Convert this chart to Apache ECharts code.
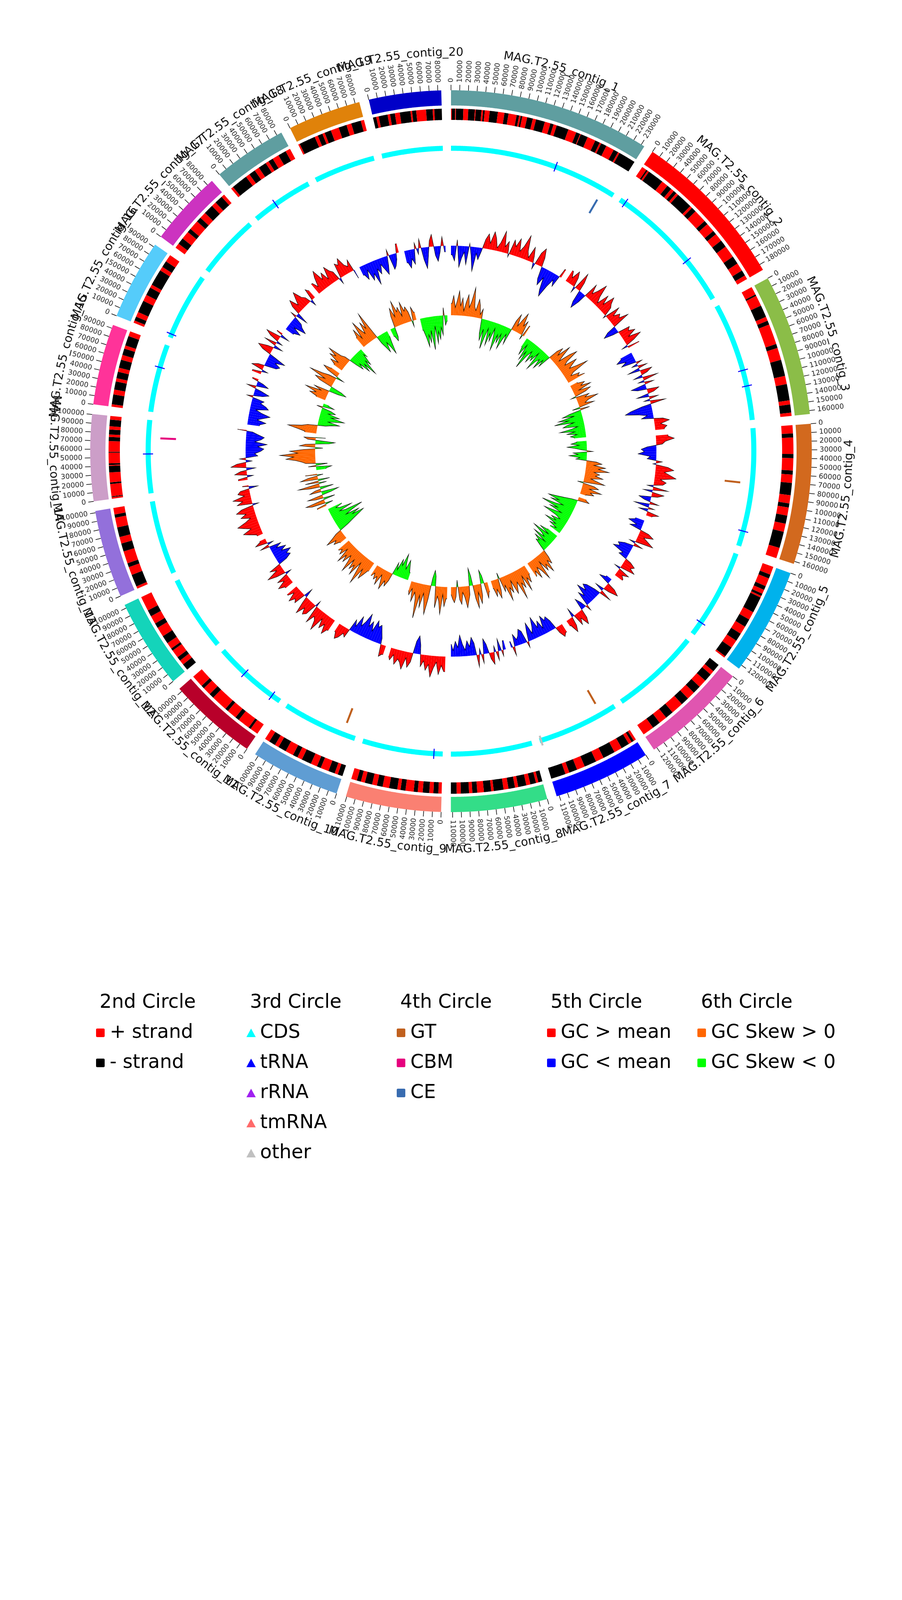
<!DOCTYPE html>
<html>
<head>
<meta charset="utf-8">
<script src="https://cdn.jsdelivr.net/npm/echarts@6/dist/echarts.min.js"></script>
<style>
html,body{margin:0;padding:0;background:#ffffff;}
#chart{width:2310px;height:4620px;}
</style>
</head>
<body>
<div id="chart"></div>
<script>
// ---------------- DATA ----------------
const contigNames = ['MAG.T2.55_contig_1','MAG.T2.55_contig_2','MAG.T2.55_contig_3','MAG.T2.55_contig_4','MAG.T2.55_contig_5',
  'MAG.T2.55_contig_6','MAG.T2.55_contig_7','MAG.T2.55_contig_8','MAG.T2.55_contig_9','MAG.T2.55_contig_10',
  'MAG.T2.55_contig_11','MAG.T2.55_contig_12','MAG.T2.55_contig_13','MAG.T2.55_contig_14','MAG.T2.55_contig_15',
  'MAG.T2.55_contig_16','MAG.T2.55_contig_17','MAG.T2.55_contig_18','MAG.T2.55_contig_19','MAG.T2.55_contig_20'];
const contigLengths = [234000,187000,164000,163000,125000,124000,113000,112000,111000,104000,
  104000,104000,102000,100500,94000,93000,87000,86000,85000,84000];

// strand runs in kb: positive = + strand, negative = - strand
const strandRuns = [
  [1,-4,1,-9,6,-8,1,-7,2,-2,6,-10,8,-5,10,-3,2,-2,6,-7,4,-11,7,-4,4,-15,10,-5,1,-9,10,-6,2,-7,10,-6,2,-21],
  [6,-2,2,-20,8,-6,4,-4,3,-20,3,-6,16,-5,11,-5,10,-9,15,-10,10,-7,5],
  [10,-2,13,-15,5,-5,25,-5,15,-20,10,-20,5,-10,4],
  [10,-5,20,-5,15,-5,10,-15,10,-5,10,-10,10,-20,13],
  [10,-5,10,-5,5,-3,2,-20,10,-10,10,-10,10,-13,2],
  [-10,5,-10,10,-10,10,-10,15,-10,10,-10,14],
  [3,-3,4,-10,10,-15,10,-15,10,-10,5,-18],
  [-5,3,-7,5,-10,4,-8,6,-12,3,-9,8,-6,4,-10,5,-7],
  [4,-6,5,-8,6,-5,10,-6,4,-10,8,-7,6,-9,5,-5,7],
  [-6,4,-8,10,-5,8,-12,6,-6,10,-10,5,-8,6],
  [10,-3,15,-5,12,-4,20,-6,10,-4,15],
  [-8,6,-5,10,-3,8,-10,12,-6,10,-8,18],
  [3,-15,10,-5,15,-10,8,-12,12,-4,8],
  [2,-1,15,-2,12,-8,1,-2,13,-1,13,-5,3,-6,4,-8,4.5],
  [3,-12,6,-10,4,-8,5,-10,6,-8,4,-12,6],
  [3,-5,6,-15,8,-10,4,-20,5,-8,9],
  [6,-8,10,-5,12,-6,8,-12,6,-10,4],
  [3,-20,5,-8,6,-10,4,-6,8,-10,6],
  [2,-20,4,-6,3,-8,10,-10,6,-12,4],
  [-4,3,-11,3,-6,6,-13,2,-5,12,-8,2,-9]
];

// 3rd circle: RNA features [contig index, position bp]
const tRNAPositions = [[0,146000],[1,8000],[1,124000],[2,95000],[2,117000],[3,142000],[4,106000],
  [8,12000],[10,13000],[10,61000],[13,54000],[14,62000],[15,5000],[17,33000]];
const otherPositions = [[6,111000]];

// 4th circle: CAZy [contig index, position bp]
const gtPositions = [[3,76000],[6,21000],[9,18000]];
const cbmPositions = [[13,76000]];
const cePositions = [[0,218000]];

// 5th circle: GC content deviation from mean, 5 kb windows
const gcContent = [
  [-3,-5,2,-7,-4,-2,-6,1,-3,-8,-2,-4,-1,3,5,2,6,4,1,3,7,2,4,-1,5,3,6,2,4,8,3,1,5,2,-2,4,6,3,-4,-6,-3,-7,-9,-5,-2,-4,3],
  [4,2,5,3,-2,6,3,-4,-6,-3,5,2,4,7,3,1,5,2,6,4,3,-1,5,2,4,3,6,-3,-5,-2,4,3,5,2,6,3,-2,4],
  [-4,-6,-3,-5,2,-2,3,-4,4,2,-3,5,-2,3,-5,-3,4,2,-4,3,-2,5,-3,-7,-9,-5,-2,-4,3,5,2,4,3],
  [4,6,3,2,-3,-5,-4,-6,-2,-3,2,-1,4,6,3,5,7,2,4,3,-2,5,-3,4,2,-4,-2,3,-5,2,-3,4,2],
  [-3,-5,-2,-4,3,5,2,4,6,-2,3,-3,-5,-4,-6,-2,-3,2,4,3,5,-2,4,2,3],
  [-2,-4,3,5,2,-3,4,-2,-5,-6,-4,-7,-3,-5,2,-2,-4,3,5,2,4,-3,3,5,2],
  [3,4,2,-3,-5,-4,-6,-2,-5,-3,-7,-4,-2,-6,-3,2,-4,-5,-3,-2,-4,3,-2],
  [-3,2,-4,3,-2,4,2,-3,-5,3,-2,4,-4,-6,-3,-5,-2,-4,-7,-3,-5,-2,-4],
  [5,3,6,2,4,7,3,5,2,4,-3,-6,-4,3,5,2,6,4,3,5,2,4,3],
  [3,4,-2,-4,-6,-5,-7,-3,-6,-4,-8,-5,-3,-6,-2,-4,3,2,4,5,3],
  [4,6,3,5,2,7,4,3,6,-2,4,5,3,6,2,-3,4,3,5,2,4],
  [3,5,2,4,-2,3,6,2,4,-3,-5,-4,-6,-3,-5,-2,-4,3,-2,4,2],
  [2,4,6,3,5,7,4,2,5,3,6,4,-2,5,3,6,2,4,3,-3,2],
  [3,-2,4,2,-3,5,3,-2,2,-4,-3,-5,-6,-4,-7,-3,-5,-6,-4,-2,3],
  [-4,-6,-3,-5,-7,-4,-2,-6,-5,-3,-4,2,-3,-5,-2,3,-4,-2,2],
  [3,-2,4,2,-4,-5,-3,-6,-2,3,5,2,-3,4,-2,3,5,-3,2],
  [-3,-5,-2,-6,-4,-3,2,-4,3,5,2,4,6,3,2,-2,4,3],
  [4,2,5,7,3,5,2,6,4,3,-2,5,4,6,3,2,4,-3],
  [-3,-5,-2,-6,-4,-8,-3,-5,-2,-4,-6,-3,2,-5,-4,-2,3],
  [-4,-6,-3,-5,2,-2,3,-4,-7,-3,2,4,-3,-5,-2,3,-2]
];

// 6th circle: GC skew, 5 kb windows
const gcSkew = [
  [.12,.2,.08,.15,.25,.1,.18,.05,.14,.22,.09,.16,.3,.11,.07,.19,.13,.04,.1,-.15,-.22,-.1,-.3,-.18,-.08,-.25,-.12,-.2,-.06,-.16,-.28,-.11,-.19,-.09,-.24,-.14,-.07,-.17,.1,.18,.06,.14,.22,.09,.15,-.05,.12],
  [-.1,-.18,-.06,-.22,-.12,-.3,-.15,-.08,-.2,-.11,-.16,-.05,-.24,-.13,-.09,-.19,-.07,-.14,.1,.16,.08,.22,.12,.05,.18,.25,.11,.07,.2,.14,.09,.17,.28,.1,.06,.15,.12,.19],
  [.08,.15,.1,.2,.06,.18,.12,-.05,.14,.09,.22,.11,.07,.16,-.08,.1,-.12,-.2,-.08,-.25,-.15,-.3,-.1,-.18,-.22,-.07,-.14,-.26,-.11,-.19,-.09,-.16,-.12],
  [-.1,-.16,-.08,-.2,-.12,-.05,.06,-.14,-.09,-.18,-.07,-.11,.1,.16,.08,.2,.13,.24,.09,.15,.11,.19,.07,.14,.22,-.06,.12,.17,.08,.21,.1,.14,.06],
  [.08,.12,-.06,-.14,-.22,-.3,-.18,-.26,-.12,-.2,-.34,-.16,-.24,-.1,-.19,-.28,-.13,-.08,-.17,-.11,-.22,-.09,-.15,-.06,-.12],
  [-.12,-.2,-.08,-.26,-.15,-.1,-.22,-.06,-.18,-.11,-.14,-.05,.08,.15,.1,.22,.12,.18,.06,.25,.14,.09,.2,.11,.16],
  [.1,.18,.12,.25,.08,.2,.14,.3,.11,.16,.22,.07,.19,.13,.26,.09,.15,-.06,.12,.2,.1,.17,.08],
  [.1,.16,-.08,-.14,.12,.2,.08,.24,.14,-.1,-.18,.09,.15,.22,.11,.06,.18,.13,-.07,.1,.16,.12,.08],
  [.12,.2,.08,.28,.15,.1,.22,-.1,-.16,-.08,.14,.3,.18,.09,.24,.12,.36,.16,.1,.2,.07,.14,.1],
  [-.08,-.14,-.2,-.1,-.16,-.25,-.12,-.18,-.06,-.13,.08,.15,.1,.2,.12,.06,.18,.1,.14,.08,.12],
  [.1,.16,.22,.12,.3,.18,.08,.24,.14,.2,.1,.26,.15,.09,.19,.12,.22,.07,.16,.11,.14],
  [.08,.14,.1,.2,.12,.06,-.1,-.18,-.26,-.32,-.2,-.28,-.14,-.22,-.34,-.16,-.1,-.24,-.12,-.08,-.15],
  [.1,-.08,.14,.2,-.12,.08,.16,-.1,-.18,.12,.06,-.14,.1,.22,-.08,.14,-.12,.18,.1,-.06,.12],
  [-.1,-.16,.08,-.12,.1,.14,.2,.3,.22,.36,.18,.26,.12,-.08,.16,.1,-.14,-.2,.08,.12,-.1],
  [.12,.2,.3,.16,.1,-.08,-.14,-.22,-.1,-.18,-.26,-.12,-.2,-.08,-.15,-.1,.06,-.12,-.05],
  [.1,.18,.12,.24,.08,.16,-.1,-.18,-.12,.14,.2,.1,.28,.15,.08,-.08,.12,.18,.1],
  [.1,.16,.08,.2,.14,.24,.1,.06,-.08,-.16,-.1,-.22,-.14,-.28,-.12,-.18,-.06,-.1],
  [.12,.2,.08,.26,.16,.1,.22,.14,.3,.1,-.08,-.14,-.2,-.1,-.16,-.24,-.12,-.06],
  [-.08,-.14,-.1,.12,.2,.1,.26,.14,.18,.08,.22,.12,.16,.1,-.06,.14,.08],
  [-.12,-.2,-.3,-.18,-.26,-.14,-.34,-.22,-.1,-.28,-.16,-.24,-.12,-.2,.08,-.1,-.06]
];

const legendTitles = ['2nd Circle','3rd Circle','4th Circle','5th Circle','6th Circle'];
const legendLabels = [
  ['+ strand','- strand'],
  ['CDS','tRNA','rRNA','tmRNA','other'],
  ['GT','CBM','CE'],
  ['GC > mean','GC < mean'],
  ['GC Skew > 0','GC Skew < 0']
];

// ---------------- LAYOUT / STYLE ----------------
const GAP_BP = 11200, GC_BIN_BP = 5000, TICK_BP = 10000;
const CENTER = [1155, 1155];
const RING = {ideo:[885,924], strand:[848,877], cds:[769,782], rna:[763,789], cazy:[705,745],
  tick:[924,938], tickLabel:944, name:1020};
const GC_R = [456, 596], SKEW_R = [258, 438];
const contigColors = ['#5f9ea0','#ff0000','#8bbd48','#d2691e','#00b2ec','#e055b0','#0000ff','#33dd88','#fa8072','#5f9dd3',
  '#b8002a','#14d4ba','#9370db','#cc9ec8','#ff3399','#55ccfa','#cc33c0','#5f9ea0','#e0820a','#0000c8'];
const legendColors = [
  ['#ff0000','#000000'],
  ['#00ffff','#0000ff','#a020f0','#ff6a6a','#c0c0c0'],
  ['#c0601e','#e6007e','#386cb0'],
  ['#ff0000','#0000ff'],
  ['#ff6600','#00ff00']
];
const legendShapes = ['rect','tri','rect','rect','rect'];
const NAME_FONT = '30px "DejaVu Sans"';
const TICK_FONT = '18px "DejaVu Sans"';
const LEGEND_FONT = '49px "DejaVu Sans"';

const starts = [];
let acc = 0;
contigLengths.forEach(L => { starts.push(acc); acc += L + GAP_BP; });
const TOTAL = acc;

function arcPts(api, r0, r1, a0, a1) {
  const n = Math.max(1, Math.ceil((a1 - a0) / 800));
  const pts = [];
  for (let k = 0; k <= n; k++) pts.push(api.coord([r1, a0 + (a1 - a0) * k / n]));
  for (let k = n; k >= 0; k--) pts.push(api.coord([r0, a0 + (a1 - a0) * k / n]));
  return pts;
}
function screenAngle(params, p) {
  return Math.atan2(p[1] - params.coordSys.cy, p[0] - params.coordSys.cx);
}
function degFromTop(phi) {
  return ((phi * 180 / Math.PI + 90) % 360 + 360) % 360;
}
function lineEl(p1, p2, color, w) {
  return {type:'line', shape:{x1:p1[0], y1:p1[1], x2:p2[0], y2:p2[1]}, style:{stroke:color, lineWidth:w}};
}

const contigData = contigLengths.map((L, i) => [0, starts[i]]);

const measureCtx = document.createElement('canvas').getContext('2d');
measureCtx.font = NAME_FONT;

// filled line plot around a baseline, coloured by sign, black outline line
function makeGcRenderer(values, posColor, negColor) {
  return function (params, api) {
    const c = params.dataIndex, s = starts[c], L = contigLengths[c], vals = values[c];
    const pts = [[s, vals[0]]];
    vals.forEach((v, i) => {
      const a0 = s + i * GC_BIN_BP, a1 = s + Math.min((i + 1) * GC_BIN_BP, L);
      pts.push([(a0 + a1) / 2, v]);
    });
    pts.push([s + L, vals[vals.length - 1]]);
    const base = a => api.coord([0, a]);
    const val = (v, a) => api.coord([v, a]);
    const children = [];
    for (let k = 0; k < pts.length - 1; k++) {
      const a0 = pts[k][0], v0 = pts[k][1], a1 = pts[k + 1][0], v1 = pts[k + 1][1];
      if (v0 * v1 >= 0) {
        children.push({type:'polygon', shape:{points:[base(a0), val(v0, a0), val(v1, a1), base(a1)]},
          style:{fill:(v0 + v1) >= 0 ? posColor : negColor}});
      } else {
        const ac = a0 + (a1 - a0) * v0 / (v0 - v1);
        children.push({type:'polygon', shape:{points:[base(a0), val(v0, a0), base(ac)]}, style:{fill:v0 > 0 ? posColor : negColor}});
        children.push({type:'polygon', shape:{points:[base(ac), val(v1, a1), base(a1)]}, style:{fill:v1 > 0 ? posColor : negColor}});
      }
    }
    children.push({type:'polyline', shape:{points:pts.map(p => val(p[1], p[0]))}, style:{stroke:'#000', lineWidth:1.1, fill:null}});
    return {type:'group', children};
  };
}

const series = [
  {type:'custom', coordinateSystem:'polar', polarIndex:0, silent:true, data:contigData,
    renderItem:(params, api) => {
      const i = params.dataIndex;
      return {type:'polygon', shape:{points:arcPts(api, RING.ideo[0], RING.ideo[1], starts[i], starts[i] + contigLengths[i])},
        style:{fill:contigColors[i]}};
    }},
  {type:'custom', coordinateSystem:'polar', polarIndex:0, silent:true, data:contigData,
    renderItem:(params, api) => {
      const i = params.dataIndex, children = [];
      for (let t = 0; t <= contigLengths[i]; t += TICK_BP) {
        const pos = starts[i] + t;
        children.push(lineEl(api.coord([RING.tick[0], pos]), api.coord([RING.tick[1], pos]), '#000', 1.5));
        const p = api.coord([RING.tickLabel, pos]);
        const phi = screenAngle(params, p);
        const deg = degFromTop(phi);
        const right = deg < 180 || deg > 359.9;
        children.push({type:'text', x:p[0], y:p[1], rotation: right ? -phi : Math.PI - phi,
          style:{text:String(t), font:TICK_FONT, fill:'#222', align: right ? 'left' : 'right', verticalAlign:'middle'}});
      }
      return {type:'group', children};
    }},
  {type:'custom', coordinateSystem:'polar', polarIndex:0, silent:true, data:contigData,
    renderItem:(params, api) => {
      const i = params.dataIndex, text = contigNames[i];
      const chars = Array.from(text);
      const widths = chars.map(ch => measureCtx.measureText(ch).width);
      const W = widths.reduce((a, b) => a + b, 0);
      const bpPerPx = TOTAL / (2 * Math.PI * RING.name);
      const mid = starts[i] + contigLengths[i] / 2;
      const degMid = degFromTop(screenAngle(params, api.coord([RING.name, mid])));
      const flip = degMid > 90 && degMid < 270;
      const children = [];
      let cum = 0;
      chars.forEach((ch, k) => {
        const off = (cum + widths[k] / 2 - W / 2) * bpPerPx;
        const pos = flip ? mid - off : mid + off;
        const p = api.coord([RING.name, pos]);
        const phi = screenAngle(params, p);
        children.push({type:'text', x:p[0], y:p[1], rotation: flip ? Math.PI / 2 - phi : -phi - Math.PI / 2,
          style:{text:ch, font:NAME_FONT, fill:'#111', align:'center', verticalAlign:'middle'}});
        cum += widths[k];
      });
      return {type:'group', children};
    }},
  {type:'custom', coordinateSystem:'polar', polarIndex:0, silent:true, data:contigData,
    renderItem:(params, api) => {
      const i = params.dataIndex, children = [];
      let pos = starts[i];
      strandRuns[i].forEach(run => {
        const len = Math.abs(run) * 1000;
        children.push({type:'polygon', shape:{points:arcPts(api, RING.strand[0], RING.strand[1], pos, pos + len)},
          style:{fill: run > 0 ? '#ff0000' : '#000000'}});
        pos += len;
      });
      return {type:'group', children};
    }},
  {type:'custom', coordinateSystem:'polar', polarIndex:0, silent:true, data:contigData,
    renderItem:(params, api) => {
      const i = params.dataIndex;
      return {type:'polygon', shape:{points:arcPts(api, RING.cds[0], RING.cds[1], starts[i], starts[i] + contigLengths[i])},
        style:{fill:'#00ffff'}};
    }},
  {type:'custom', coordinateSystem:'polar', polarIndex:0, silent:true,
    data:tRNAPositions.map(d => [0, starts[d[0]] + d[1]]),
    renderItem:(params, api) => lineEl(api.coord([RING.rna[0], api.value(1)]), api.coord([RING.rna[1], api.value(1)]), '#0000ff', 2.5)},
  {type:'custom', coordinateSystem:'polar', polarIndex:0, silent:true,
    data:otherPositions.map(d => [0, starts[d[0]] + d[1]]),
    renderItem:(params, api) => lineEl(api.coord([RING.rna[0], api.value(1)]), api.coord([RING.rna[1], api.value(1)]), '#c0c0c0', 5)},
  {type:'custom', coordinateSystem:'polar', polarIndex:0, silent:true,
    data:gtPositions.map(d => [0, starts[d[0]] + d[1]]),
    renderItem:(params, api) => lineEl(api.coord([RING.cazy[0], api.value(1)]), api.coord([RING.cazy[1], api.value(1)]), '#c0601e', 5)},
  {type:'custom', coordinateSystem:'polar', polarIndex:0, silent:true,
    data:cbmPositions.map(d => [0, starts[d[0]] + d[1]]),
    renderItem:(params, api) => lineEl(api.coord([RING.cazy[0], api.value(1)]), api.coord([RING.cazy[1], api.value(1)]), '#e6007e', 5)},
  {type:'custom', coordinateSystem:'polar', polarIndex:0, silent:true,
    data:cePositions.map(d => [0, starts[d[0]] + d[1]]),
    renderItem:(params, api) => lineEl(api.coord([RING.cazy[0], api.value(1)]), api.coord([RING.cazy[1], api.value(1)]), '#386cb0', 5)},
  {type:'custom', coordinateSystem:'polar', polarIndex:1, silent:true, data:contigData,
    renderItem:makeGcRenderer(gcContent, '#ff0000', '#0000ff')},
  {type:'custom', coordinateSystem:'polar', polarIndex:2, silent:true, data:contigData,
    renderItem:makeGcRenderer(gcSkew, '#ff6600', '#00ff00')}
];

// ---------------- LEGEND ----------------
const legendEls = [];
const COL_X0 = 246, COL_DX = 385, HEAD_Y = 2567, ROW_Y0 = 2644, ROW_DY = 77;
legendTitles.forEach((title, c) => {
  const x0 = COL_X0 + COL_DX * c;
  legendEls.push({type:'text', x:x0 + 9, y:HEAD_Y, style:{text:title, font:LEGEND_FONT, fill:'#000', verticalAlign:'middle'}});
  legendLabels[c].forEach((lab, r) => {
    const y = ROW_Y0 + ROW_DY * r;
    const col = legendColors[c][r];
    if (legendShapes[c] === 'tri') {
      legendEls.push({type:'polygon', shape:{points:[[x0 + 12, y - 11], [x0 + 24, y + 11], [x0, y + 11]]}, style:{fill:col}});
    } else {
      legendEls.push({type:'rect', shape:{x:x0, y:y - 11, width:22, height:22, r:3}, style:{fill:col}});
    }
    legendEls.push({type:'text', x:x0 + 35, y:y, style:{text:lab, font:LEGEND_FONT, fill:'#000', verticalAlign:'middle'}});
  });
});

const option = {
  animation:false,
  backgroundColor:'#ffffff',
  polar:[
    {center:CENTER, radius:[0, 1100]},
    {center:CENTER, radius:GC_R},
    {center:CENTER, radius:SKEW_R}
  ],
  angleAxis:[0, 1, 2].map(k => ({polarIndex:k, type:'value', min:0, max:TOTAL, startAngle:90, clockwise:true, show:false})),
  radiusAxis:[
    {polarIndex:0, type:'value', min:0, max:1100, show:false},
    {polarIndex:1, type:'value', min:-9, max:9, show:false},
    {polarIndex:2, type:'value', min:-0.36, max:0.36, show:false}
  ],
  series:series,
  graphic:{elements:legendEls}
};

const chart = echarts.init(document.getElementById('chart'), null, {renderer:'canvas', width:2310, height:4620});
chart.setOption(option);
</script>
</body>
</html>
